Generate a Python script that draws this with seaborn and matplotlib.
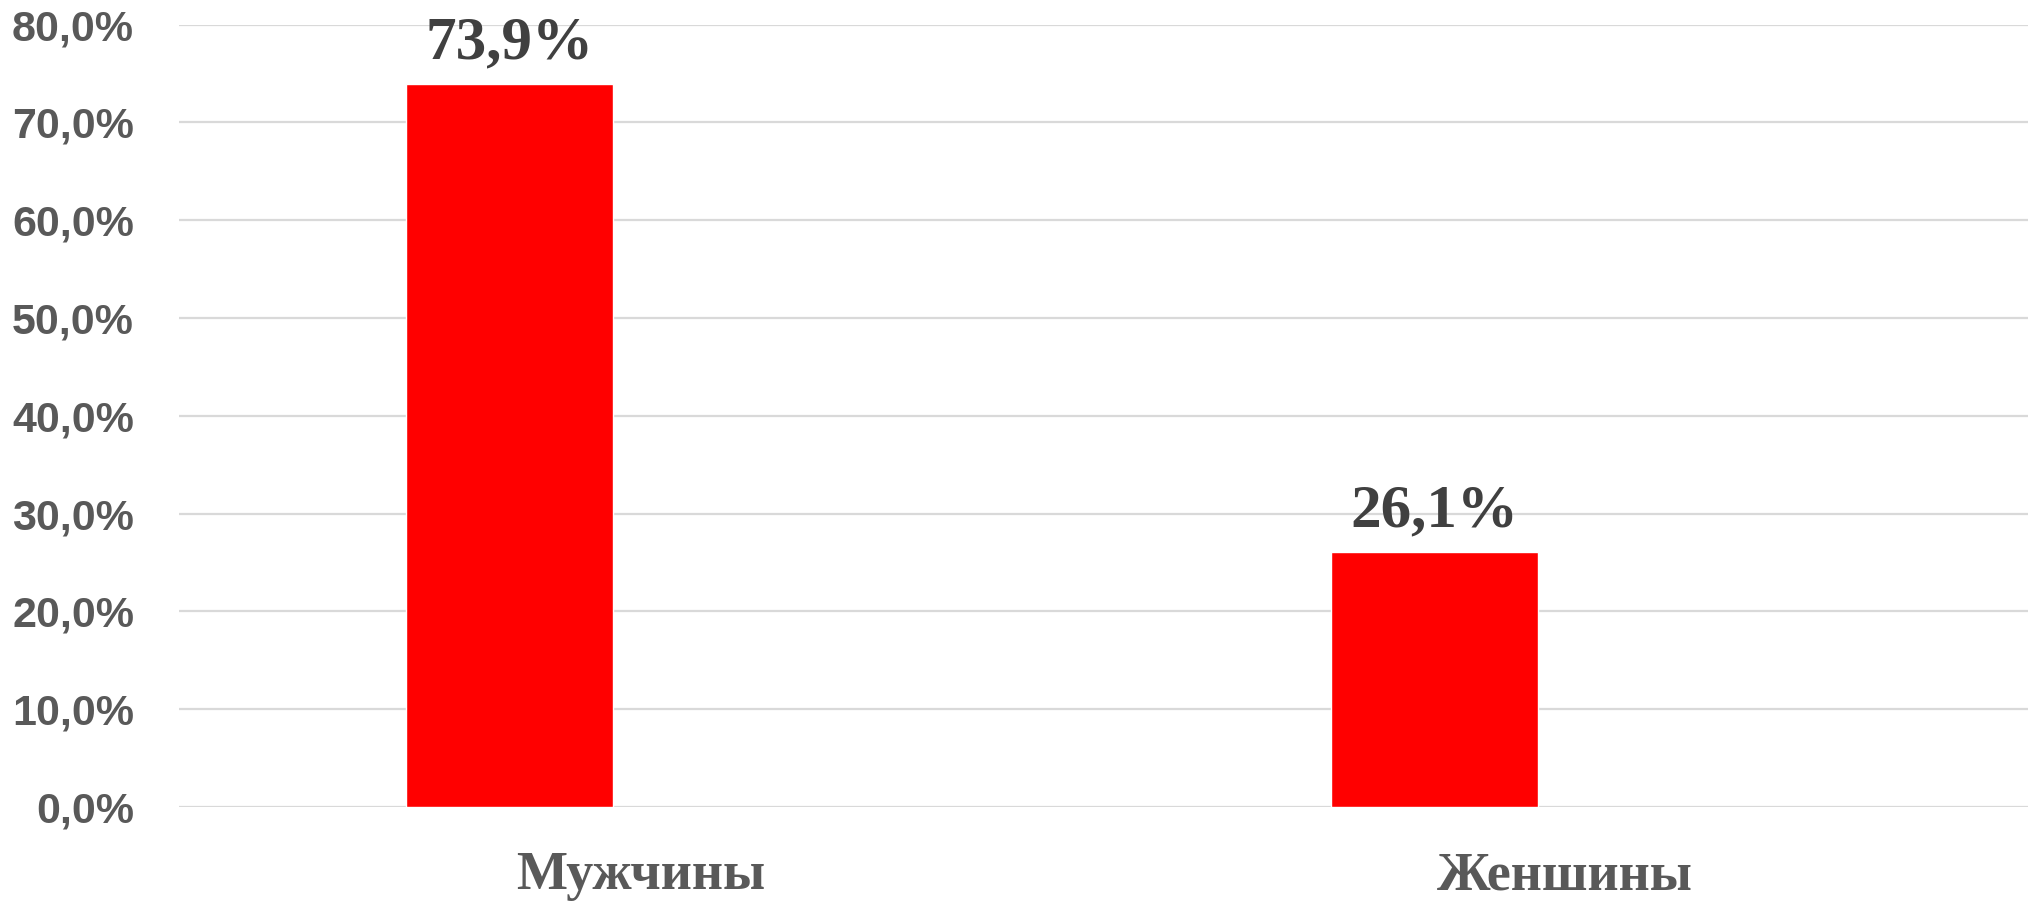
import matplotlib
matplotlib.use("Agg")
import matplotlib.pyplot as plt
import matplotlib.transforms as mtransforms
from matplotlib.ticker import FuncFormatter, MultipleLocator
import pandas as pd
import seaborn as sns

# Share of respondents by sex (label text kept as in the source chart)
categories = ["Мужчины", "Женшины"]
shares = [73.9, 26.1]
value_labels = ["73,9%", "26,1%"]

df = pd.DataFrame({"Пол": categories, "Доля": shares})

sns.set_style("white")
plt.rcParams["font.family"] = ["Liberation Sans", "DejaVu Sans"]

fig = plt.figure(figsize=(20.28, 9.02), dpi=100)
ax = fig.add_axes([178.5 / 2028, 1 - 807 / 902, 1 - 178.5 / 2028, (807 - 24.6) / 902])

sns.barplot(data=df, x="Пол", y="Доля", color="#FF0000", width=0.224,
            saturation=1, ax=ax, zorder=3)

ax.set_xlim(-0.358, 1.642)
ax.set_ylim(0, 80)
ax.yaxis.set_major_locator(MultipleLocator(10))
ax.yaxis.set_major_formatter(FuncFormatter(lambda v, _: f"{v:.1f}".replace(".", ",") + "%"))
ax.grid(axis="y", color="#d9d9d9", linewidth=1.6, zorder=0)
ax.set_axisbelow(True)
for s in ax.spines.values():
    s.set_visible(False)

ax.set_xlabel("")
ax.set_ylabel("")
ax.tick_params(axis="y", length=0, pad=32, labelsize=31, labelcolor="#595959")
for lab in ax.get_yticklabels():
    lab.set_fontweight("bold")

ax.tick_params(axis="x", length=0, pad=32)
# category labels sit to the right of the bars in the original
offset = mtransforms.ScaledTranslation(131 / 100, 0, fig.dpi_scale_trans)
for lab in ax.get_xticklabels():
    lab.set_family(["Liberation Serif", "DejaVu Serif"])
    lab.set_fontweight("bold")
    lab.set_fontsize(39)
    lab.set_color("#595959")
    lab.set_transform(lab.get_transform() + offset)

ax.bar_label(ax.containers[0], labels=value_labels, padding=9,
             fontsize=44, fontweight="bold", color="#404040",
             family=["Liberation Serif", "DejaVu Serif"], clip_on=False)

fig.savefig("out.png", dpi=100, facecolor="white")
